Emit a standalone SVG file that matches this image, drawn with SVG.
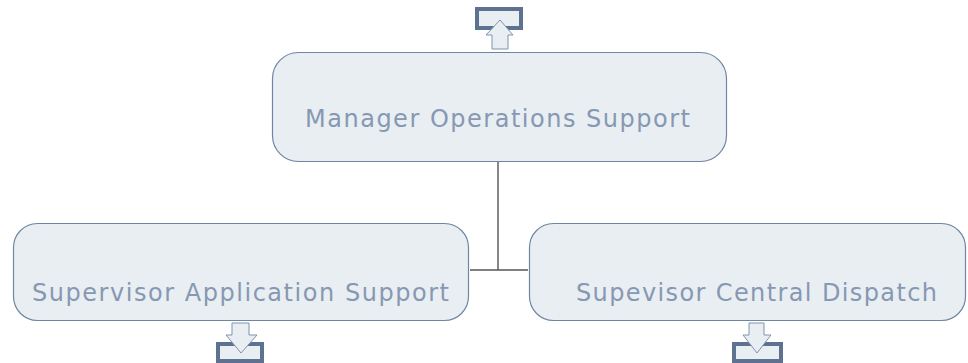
<svg xmlns="http://www.w3.org/2000/svg" width="968" height="363" viewBox="0 0 968 363">
<style>
.box{fill:#E9EEF2;stroke:#6F85A3;stroke-width:1.2}
.lbl{font-family:"DejaVu Sans","Verdana",sans-serif;font-size:24px;fill:#8698B2}
.tray{fill:#E9EEF2;stroke:#5D7291;stroke-width:4}
.arr{fill:#E9EEF2;stroke:#7F93AE;stroke-width:1}
.conn{fill:none;stroke:#555;stroke-width:1.4}
</style>
<rect width="968" height="363" fill="#fff"/>
<g id="connectors">
<path class="conn" d="M498,162 V270 M470,270 H528"/>
</g>
<g id="manager">
<rect class="tray" x="477" y="9" width="44" height="19"/>
<path class="arr" d="M500,20 L513,35 L508,35 L508,49 L492,49 L492,35 L486,35 Z"/>
<rect class="box" x="272.5" y="52.5" width="454" height="109" rx="26"/>
<text class="lbl" x="305" y="127" textLength="385" lengthAdjust="spacing">Manager Operations Support</text>
</g>
<g id="app-support">
<rect class="box" x="13.5" y="223.5" width="455" height="97" rx="24"/>
<text class="lbl" x="32" y="301" textLength="417" lengthAdjust="spacing">Supervisor Application Support</text>
<rect class="tray" x="218" y="344" width="44" height="17"/>
<path class="arr" d="M232,323 L249,323 L249,335 L257,335 L241,353 L226,335 L232,335 Z"/>
</g>
<g id="central-dispatch">
<rect class="box" x="529.5" y="223.5" width="436" height="97" rx="24"/>
<text class="lbl" x="576" y="301" textLength="361" lengthAdjust="spacing">Supevisor Central Dispatch</text>
<rect class="tray" x="734" y="344" width="47" height="17"/>
<path class="arr" d="M749,323 L764,323 L764,335 L771,335 L757,353 L743,335 L749,335 Z"/>
</g>
</svg>
